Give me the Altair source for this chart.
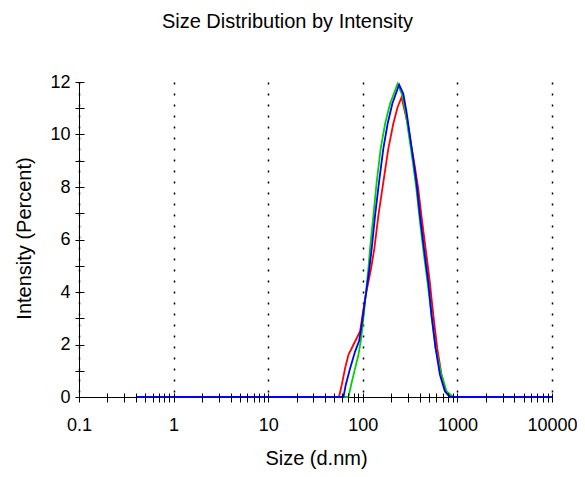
import altair as alt
import pandas as pd

TITLE = "Size Distribution by Intensity"
X_TITLE = "Size (d.nm)"
Y_TITLE = "Intensity (Percent)"

# Series (size in d.nm, intensity in percent)
red_size = [0.4, 56, 60, 65, 70.5, 79.6, 93.7, 105.7, 122.4, 132.5, 146.2, 164.8, 186.2, 210, 233, 257,
            298, 322, 352, 385, 420, 461, 510, 556, 612, 679, 756, 867, 10000]
red_int = [0, 0, 0.47, 1.10, 1.61, 1.99, 2.51, 3.76, 4.90, 5.66, 6.92, 8.19, 9.46, 10.41, 11.04, 11.42,
           10.41, 9.65, 8.85, 7.95, 6.8, 5.66, 4.4, 3.13, 1.86, 0.85, 0.22, 0, 0]

green_size = [0.4, 70.5, 75.4, 83.0, 89.9, 95.1, 99.8, 114.6, 119.4, 129.4, 140.2, 154.5, 172, 194, 233,
              262, 285, 308, 338, 368, 400, 436, 490, 533, 588, 679, 767, 903, 10000]
green_int = [0, 0, 0.47, 1.10, 1.61, 2.13, 2.75, 4.90, 5.66, 6.92, 8.19, 9.46, 10.41, 11.17, 11.93,
             11.5, 10.8, 9.95, 8.95, 7.95, 6.75, 5.6, 4.2, 3.05, 1.86, 0.85, 0.22, 0, 0]

blue_size = [0.4, 62.4, 66.1, 73.5, 83.0, 91.4, 97.3, 117.5, 124.2, 134.9, 148.5, 164.8, 183, 205, 242,
             268, 290, 315, 342, 371, 402, 443, 492, 533, 588, 654, 738, 833, 10000]
blue_int = [0, 0, 0.47, 1.10, 1.74, 2.13, 2.75, 4.90, 5.66, 6.92, 8.19, 9.46, 10.41, 11.17, 11.9,
            11.55, 10.85, 9.95, 9.05, 8.1, 6.92, 5.66, 4.39, 3.13, 1.86, 0.85, 0.22, 0, 0]

x_major = [0.1, 1, 10, 100, 1000, 10000]
x_minor = [0.1, 0.2, 0.3, 0.4, 0.5, 0.6, 0.7, 0.8, 0.9,
           1, 2, 3, 4, 5, 6, 7, 8, 9,
           10, 20, 30, 40, 50, 60, 70, 80, 90,
           100, 200, 300, 400, 500, 600, 700, 800, 900,
           1000, 2000, 3000, 4000, 5000, 6000, 7000, 8000, 9000, 10000]
y_major = [0, 2, 4, 6, 8, 10, 12]
y_minor = [0, 1, 2, 3, 4, 5, 6, 7, 8, 9, 10, 11, 12]

series = [("red", red_size, red_int, "#ff0000"),
          ("green", green_size, green_int, "#00d200"),
          ("blue", blue_size, blue_int, "#0000ff")]

FONT = "Liberation Sans"
xscale = alt.Scale(type="log", domain=[0.1, 10000], nice=False)
yscale = alt.Scale(domain=[0, 12], nice=False, zero=True)

x_axis = alt.Axis(values=x_major, format="~g", ticks=False, grid=True, gridColor="#000000",
                  gridDash=[2, 9], gridWidth=1.5, gridOpacity=1, domainColor="#000000",
                  domainWidth=1, labelFont=FONT, labelFontSize=18, labelColor="#000000",
                  labelPadding=19, labelFlush=False, titleFont=FONT, titleFontSize=20,
                  titleFontWeight="normal", titleColor="#000000", titleX=237, titleY=61,
                  titleBaseline="middle", titleAlign="center", orient="bottom")
y_axis = alt.Axis(values=y_major, ticks=False, grid=False, domainColor="#000000", domainWidth=1,
                  labelFont=FONT, labelFontSize=18, labelColor="#000000", labelPadding=9,
                  labelFlush=False, titleFont=FONT, titleFontSize=20, titleFontWeight="normal",
                  titleColor="#000000", titleX=-55, titleY=156, titleBaseline="middle",
                  titleAlign="center", titleAngle=270, orient="left")

layers = []
for name, xs, ys, col in series:
    df = pd.DataFrame({"size": xs, "intensity": ys})
    layers.append(
        alt.Chart(df).mark_line(color=col, strokeWidth=1.8).encode(
            x=alt.X("size:Q", scale=xscale, title=X_TITLE, axis=x_axis),
            y=alt.Y("intensity:Q", scale=yscale, title=Y_TITLE, axis=y_axis),
        )
    )

main = alt.layer(*layers)

tick_df = pd.DataFrame({"size": blue_size, "intensity": blue_int})
tick_layer = alt.Chart(tick_df).mark_point(opacity=0).encode(
    x=alt.X("size:Q", scale=xscale, title=None,
            axis=alt.Axis(values=x_minor, orient="bottom", offset=-4, tickSize=9, tickColor="#000000",
                          tickWidth=1, labels=False, domain=False, grid=False, zindex=1)),
    y=alt.Y("intensity:Q", scale=yscale, title=None,
            axis=alt.Axis(values=y_minor, orient="left", offset=-5, tickSize=9, tickColor="#000000",
                          tickWidth=1, labels=False, domain=False, grid=False, zindex=1)),
)

chart = alt.layer(main, tick_layer).resolve_axis(x="independent", y="independent").properties(
    width=473, height=315, autosize="none",
    padding={"left": 71, "top": 74, "right": 25, "bottom": 72},
    title=alt.TitleParams(text=TITLE, font=FONT, fontSize=20, fontWeight="normal", color="#000000",
                          anchor="middle", frame="group", dx=-28, offset=41),
).configure_view(stroke=None)

chart.save("out.html", embed_options={"renderer": "svg", "actions": False})
